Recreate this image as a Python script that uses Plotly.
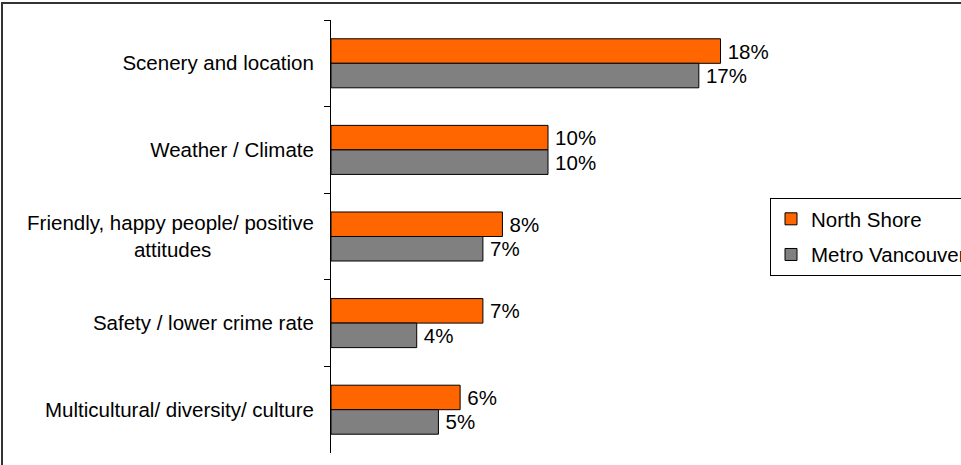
import plotly.graph_objects as go

categories = [
    "Scenery and location",
    "Weather / Climate",
    "Friendly, happy people/ positive<br>attitudes" + "\u00a0" * 18,
    "Safety / lower crime rate",
    "Multicultural/ diversity/ culture",
]
north_shore = [17.95, 10.0, 7.9, 7.0, 5.95]
metro_vancouver = [16.95, 10.0, 7.0, 3.95, 4.95]
series_names = ["North Shore", "Metro Vancouver"]
series_colors = ["#FF6600", "#808080"]

W, H = 961, 465
L, R, T, B = 331, 196, 20, 12
pw = W - L - R
ph = H - T - B
FONT = "Liberation Sans, Arial"
FS = 20.5

def px_x(x):
    return (x - L) / pw

def px_y(y):
    return (H - B - y) / ph

fig = go.Figure()
for i, (name, vals, col) in enumerate(zip(series_names, [north_shore, metro_vancouver], series_colors)):
    fig.add_trace(go.Bar(
        y=categories, x=vals, name=name, orientation="h",
        legendgroup=f"g{i}",
        marker=dict(color=col, line=dict(color="#000000", width=1)),
        text=[f"\u2009{round(v)}%" for v in vals],
        textposition="outside",
        textfont=dict(family=FONT, size=FS, color="#000000"),
        cliponaxis=False,
    ))

fig.update_layout(
    width=W, height=H,
    margin=dict(l=L, r=R, t=T, b=B, autoexpand=False),
    paper_bgcolor="white", plot_bgcolor="white",
    barmode="group", bargap=0.434, bargroupgap=0,
    font=dict(family=FONT, size=FS, color="#000000"),
    xaxis=dict(range=[0, 20], visible=False, showgrid=False, zeroline=False),
    yaxis=dict(
        type="category", autorange="reversed",
        showline=True, linecolor="#000000", linewidth=1,
        ticks="outside", tickson="boundaries", ticklen=6, tickcolor="#000000",
        ticklabelstandoff=12,
        showgrid=False, zeroline=False,
        tickfont=dict(family=FONT, size=FS, color="#000000"),
    ),
    legend=dict(
        x=px_x(770), y=px_y(198), xanchor="left", yanchor="top",
        bordercolor="#000000", borderwidth=1, bgcolor="white",
        font=dict(family=FONT, size=FS, color="#000000"),
        traceorder="grouped", tracegroupgap=6,
    ),
    shapes=[dict(
        type="path", xref="paper", yref="paper",
        path=f"M {px_x(2)},{px_y(480)} L {px_x(2)},{px_y(3)} L {px_x(980)},{px_y(3)}",
        line=dict(color="#333333", width=2),
    )],
)

fig.write_html(
    "out.html",
    config={"displayModeBar": False},
    post_script="document.body.style.margin='0';document.body.style.overflow='hidden';",
)
